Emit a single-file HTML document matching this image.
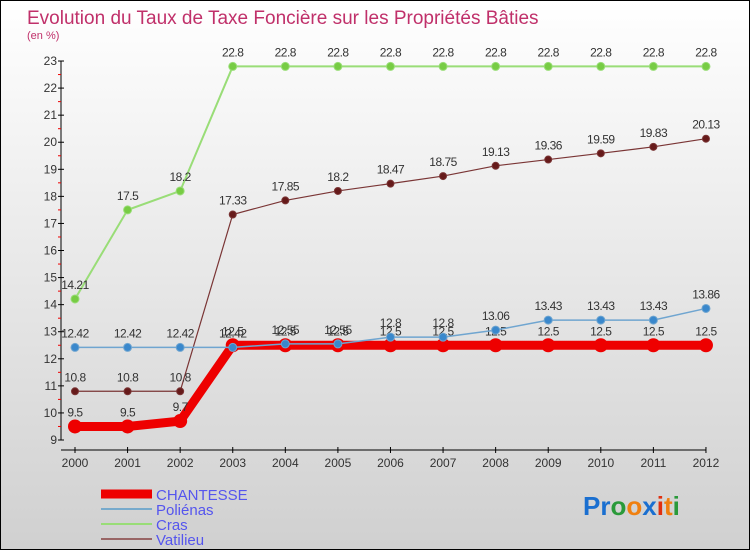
<!DOCTYPE html>
<html><head><meta charset="utf-8"><style>
html,body{margin:0;padding:0}
body{width:750px;height:550px;overflow:hidden;font-family:"Liberation Sans",sans-serif}
#wrap{position:relative;width:748px;height:548px;border:1px solid #000;background:linear-gradient(#fff,#d0d0d0)}
</style></head><body>
<div id="wrap">
<svg id="chart" width="748" height="548" xmlns="http://www.w3.org/2000/svg">
<text x="26" y="23" font-size="19" fill="#c0306a">Evolution du Taux de Taxe Foncière sur les Propriétés Bâties</text>
<text x="26" y="38" font-size="11" fill="#c0306a">(en %)</text>
<g id="axes"></g>
<g id="series"></g>
<g id="legend"></g>
<text x="582" y="514" font-size="26" font-weight="bold"><tspan fill="#1a6fd0">Pr</tspan><tspan fill="#2a9a3a">o</tspan><tspan fill="#f08010">o</tspan><tspan fill="#1a6fd0">x</tspan><tspan fill="#e03010">i</tspan><tspan fill="#f08010">t</tspan><tspan fill="#2a9a3a">i</tspan></text>
</svg>
</div>
<script>
const years=[2000,2001,2002,2003,2004,2005,2006,2007,2008,2009,2010,2011,2012];
const chantesse=[9.5,9.5,9.7,12.5,12.5,12.5,12.5,12.5,12.5,12.5,12.5,12.5,12.5];
const polienas=[12.42,12.42,12.42,12.42,12.55,12.55,12.8,12.8,13.06,13.43,13.43,13.43,13.86];
const cras=[14.21,17.5,18.2,22.8,22.8,22.8,22.8,22.8,22.8,22.8,22.8,22.8,22.8];
const vatilieu=[10.8,10.8,10.8,17.33,17.85,18.2,18.47,18.75,19.13,19.36,19.59,19.83,20.13];
const yTicks=[9,10,11,12,13,14,15,16,17,18,19,20,21,22,23];
const NS="http://www.w3.org/2000/svg";
const x=i=>74+i*52.58;
const y=v=>439-(v-9)*27.07;
function mk(tag,attrs,parent){const e=document.createElementNS(NS,tag);for(const k in attrs)e.setAttribute(k,attrs[k]);parent.appendChild(e);return e;}
const axes=document.getElementById('axes');
let yl=mk('line',{x1:60,y1:y(23),x2:60,y2:y(9),stroke:'#000'},axes);


let xl=mk('line',{x1:60,y1:449,x2:x(12),y2:449,stroke:'#000'},axes);


yTicks.forEach(v=>{
  mk('line',{x1:57,x2:63,y1:y(v),y2:y(v),stroke:'#000'},axes);
  if(v<23)mk('line',{x1:57,x2:60,y1:y(v+0.5),y2:y(v+0.5),stroke:'#e00'},axes);
  const t=mk('text',{x:56,y:y(v)+4,'font-size':12,'text-anchor':'end',fill:'#333'},axes);
  t.textContent=v;
  
  
});
years.forEach((yr,i)=>{
  mk('line',{x1:x(i),x2:x(i),y1:446,y2:452,stroke:'#000'},axes);
  const t=mk('text',{x:x(i),y:466,'font-size':12,'text-anchor':'middle',fill:'#333'},axes);
  t.textContent=yr;
  
  
});
const sg=document.getElementById('series');
function series(data,color,w,r,name,dot){
  const g=mk('g',{},sg);
  
  
  const p=mk('polyline',{points:data.map((v,i)=>x(i)+','+y(v)).join(' '),fill:'none',stroke:color,'stroke-width':w},g);
  
  
  data.forEach((v,i)=>{
    const c=mk('circle',{cx:x(i),cy:y(v),r:r,fill:dot,stroke:color,'stroke-width':1},g);
    
    
    const t=mk('text',{x:x(i),y:y(v)-10,'font-size':12,'text-anchor':'middle',fill:'#333','letter-spacing':'-0.5'},g);
    t.textContent=v;
    
    
  });
}
series(cras,'#99dd77',2,4,'cras','#77cc44');
series(vatilieu,'#7a3535',1.2,3.5,'vatilieu','#661a1a');
series(chantesse,'#ee0000',9,6.5,'chantesse','#ee0000');
series(polienas,'#6fa5d0',1.5,4,'polienas','#3a88cc');
const lg=document.getElementById('legend');
const items=[['CHANTESSE','#ee0000',9],['Poliénas','#77aacc',2],['Cras','#99dd77',2],['Vatilieu','#996666',2]];
items.forEach((it,i)=>{
  const yy=493+i*15;
  const l=mk('line',{x1:100,x2:151,y1:yy,y2:yy,stroke:it[1],'stroke-width':it[2]},lg);
  
  
  const t=mk('text',{x:155,y:yy+6,'font-size':15,fill:'#5555ee'},lg);
  t.textContent=it[0];
  
  
});
</script>
</body></html>
